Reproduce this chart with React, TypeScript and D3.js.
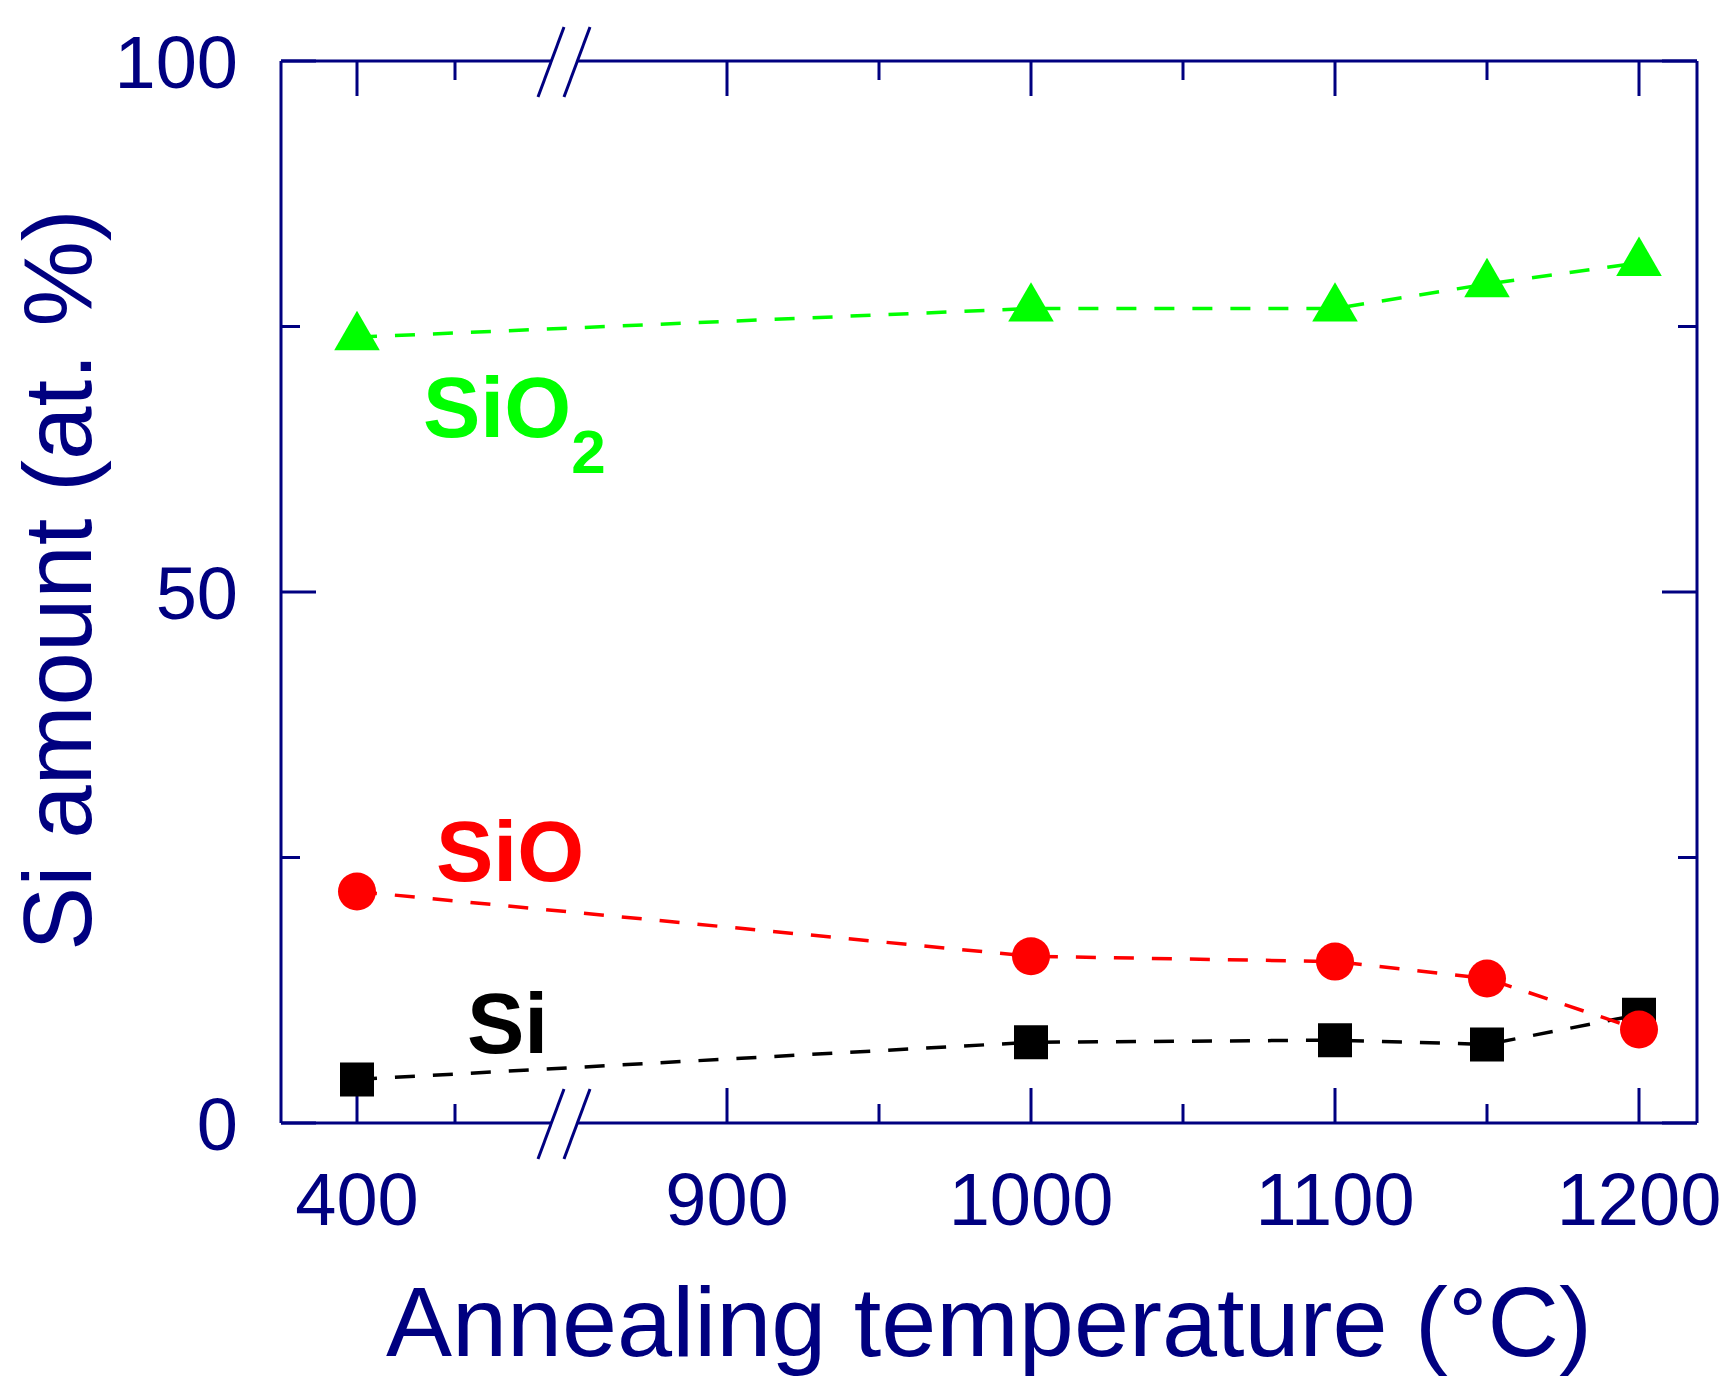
import * as d3 from 'd3';

// data
const temps = [400, 1000, 1100, 1150, 1200];
const sio2 = [74.0, 76.7, 76.7, 79.0, 81.0];
const sio = [21.8, 15.7, 15.2, 13.6, 8.8];
const si = [4.1, 7.6, 7.8, 7.4, 10.2];

const xMajor = [400, 900, 1000, 1100, 1200];
const xMinor = [450, 950, 1050, 1150];
const yMajor = [0, 50, 100];
const yMinor = [25, 75];

const W = 1730;
const H = 1395;
const frame = { left: 281, right: 1697, top: 61, bottom: 1123 };
const breakX = 564;
const navy = '#000080';
const font = '"Liberation Sans", Arial, sans-serif';

// broken x axis: two linear pieces
const xLeft = d3.scaleLinear().domain([400, 450]).range([357, 455]);
const xRight = d3.scaleLinear().domain([900, 1200]).range([727, 1639]);
const x = (v: number) => (v < 800 ? xLeft(v) : xRight(v));
const y = d3.scaleLinear().domain([0, 100]).range([frame.bottom, frame.top]);

const series = [
  { name: 'Si', values: si, color: '#000000', marker: 'square' },
  { name: 'SiO', values: sio, color: '#ff0000', marker: 'circle' },
  { name: 'SiO2', values: sio2, color: '#00ff00', marker: 'triangle' },
];

const line = d3
  .line<[number, number]>()
  .x((d) => x(d[0]))
  .y((d) => y(d[1]));

const triangle = d3.symbol().type(d3.symbolTriangle).size(900)();
const square = d3.symbol().type(d3.symbolSquare).size(34 * 34)();

export default function App() {
  const majorLen = 35;
  const minorLen = 19;
  const gapL = breakX - 13;
  const gapR = breakX + 13;

  return (
    <svg
      width={W}
      height={H}
      style={{ position: 'absolute', left: 0, top: 0, background: '#fff' }}
      fontFamily={font}
    >
      {/* frame with break gaps */}
      <g stroke={navy} strokeWidth={3} fill="none">
        <line x1={frame.left} x2={frame.left} y1={frame.top} y2={frame.bottom} />
        <line x1={frame.right} x2={frame.right} y1={frame.top} y2={frame.bottom} />
        <line x1={frame.left} x2={gapL} y1={frame.bottom} y2={frame.bottom} />
        <line x1={gapR} x2={frame.right} y1={frame.bottom} y2={frame.bottom} />
        <line x1={frame.left} x2={gapL} y1={frame.top} y2={frame.top} />
        <line x1={gapR} x2={frame.right} y1={frame.top} y2={frame.top} />
      </g>

      {/* break marks */}
      <g stroke={navy} strokeWidth={3}>
        {[frame.top, frame.bottom].map((yy) =>
          [gapL, gapR].map((xx) => (
            <line key={`${yy}-${xx}`} x1={xx - 13} y1={yy + 36} x2={xx + 13} y2={yy - 34} />
          ))
        )}
      </g>

      {/* ticks, pointing inward */}
      <g stroke={navy} strokeWidth={3}>
        {xMajor.map((t) => (
          <g key={`xM${t}`}>
            <line x1={x(t)} x2={x(t)} y1={frame.bottom} y2={frame.bottom - majorLen} />
            <line x1={x(t)} x2={x(t)} y1={frame.top} y2={frame.top + majorLen} />
          </g>
        ))}
        {xMinor.map((t) => (
          <g key={`xm${t}`}>
            <line x1={x(t)} x2={x(t)} y1={frame.bottom} y2={frame.bottom - minorLen} />
            <line x1={x(t)} x2={x(t)} y1={frame.top} y2={frame.top + minorLen} />
          </g>
        ))}
        {yMajor.map((t) => (
          <g key={`yM${t}`}>
            <line x1={frame.left} x2={frame.left + majorLen} y1={y(t)} y2={y(t)} />
            <line x1={frame.right} x2={frame.right - majorLen} y1={y(t)} y2={y(t)} />
          </g>
        ))}
        {yMinor.map((t) => (
          <g key={`ym${t}`}>
            <line x1={frame.left} x2={frame.left + minorLen} y1={y(t)} y2={y(t)} />
            <line x1={frame.right} x2={frame.right - minorLen} y1={y(t)} y2={y(t)} />
          </g>
        ))}
      </g>

      {/* tick labels */}
      <g fill={navy} fontSize={74}>
        {xMajor.map((t) => (
          <text key={`xl${t}`} x={x(t)} y={1225} textAnchor="middle">
            {t}
          </text>
        ))}
        {yMajor.map((t) => (
          <text key={`yl${t}`} x={238} y={y(t) + 27} textAnchor="end">
            {t}
          </text>
        ))}
      </g>

      {/* axis titles */}
      <text x={(frame.left + frame.right) / 2} y={1356} textAnchor="middle" fontSize={99} fill={navy}>
        Annealing temperature (°C)
      </text>
      <text
        transform={`translate(91, 580) rotate(-90)`}
        textAnchor="middle"
        fontSize={96}
        fill={navy}
      >
        Si amount (at. %)
      </text>

      {/* series */}
      {series.map((s) => {
        const pts = temps.map((t, i) => [t, s.values[i]] as [number, number]);
        return (
          <g key={s.name}>
            <path
              d={line(pts) ?? ''}
              fill="none"
              stroke={s.color}
              strokeWidth={3.5}
              strokeDasharray="20,18"
            />
            {pts.map((p, i) => {
              const cx = x(p[0]);
              const cy = y(p[1]);
              if (s.marker === 'circle') return <circle key={i} cx={cx} cy={cy} r={19} fill={s.color} />;
              return (
                <path
                  key={i}
                  d={s.marker === 'triangle' ? triangle! : square!}
                  transform={`translate(${cx},${cy})`}
                  fill={s.color}
                />
              );
            })}
          </g>
        );
      })}

      {/* series labels */}
      <g fontWeight="bold" fontSize={86}>
        <text x={423} y={437} fill="#00ff00">
          SiO<tspan fontSize={62} dy={36}>2</tspan>
        </text>
        <text x={436} y={881} fill="#ff0000">
          SiO
        </text>
        <text x={467} y={1053} fill="#000000">
          Si
        </text>
      </g>
    </svg>
  );
}
